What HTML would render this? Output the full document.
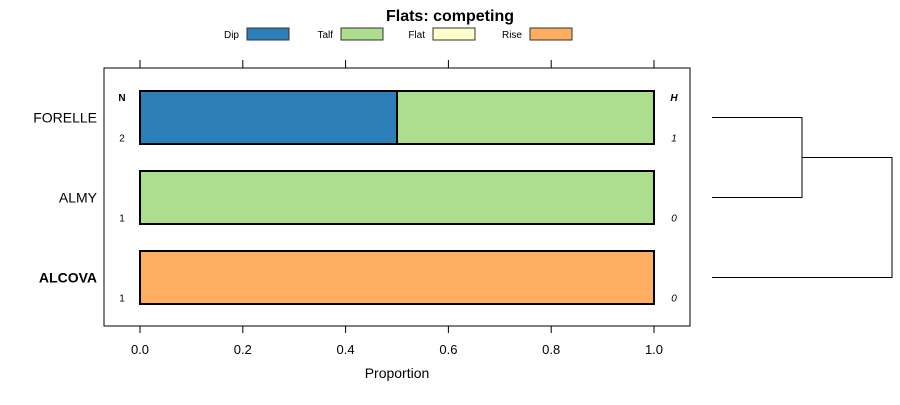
<!DOCTYPE html>
<html><head><meta charset="utf-8"><style>
body{margin:0;background:#fff}
svg text{font-family:"Liberation Sans",sans-serif}
</style></head><body>
<svg id="chart" width="900" height="400" xmlns="http://www.w3.org/2000/svg">
<text x="450" y="21" text-anchor="middle" font-size="16" font-weight="bold">Flats: competing</text>
<g id="legend"></g>
<rect x="104" y="68" width="586" height="258" fill="none" stroke="#000" stroke-width="1"/>
<g id="axes"></g>
<g id="bars"></g>
<g id="labels"></g>
<text x="397" y="378" text-anchor="middle" font-size="14">Proportion</text>
<g id="dendro" stroke="#000" fill="none" stroke-width="1">
<path d="M712,117.5H802V197.5H712 M802,157.5H892V277.5H712"/>
</g>
</svg>
<script>
const categories=["FORELLE","ALMY","ALCOVA"];
const seriesNames=["Dip","Talf","Flat","Rise"];
const colors=["#2c7fb8","#addd8e","#ffffcc","#fdae61"];
const dip=[0.5,0,0];
const talf=[0.5,1,0];
const flat=[0,0,0];
const rise=[0,0,1];
const nVals=["2","1","1"];
const hVals=["1","0","0"];
const ticks=[0,0.2,0.4,0.6,0.8,1.0];
const tickLabels=["0.0","0.2","0.4","0.6","0.8","1.0"];
const NS="http://www.w3.org/2000/svg";
const xs=v=>140+v*514;
const yc=i=>117.5+i*80;
function mk(tag,attrs,parent,text){const e=document.createElementNS(NS,tag);for(const k in attrs)e.setAttribute(k,attrs[k]);if(text!==undefined)e.textContent=text;parent.appendChild(e);return e;}
const axes=document.getElementById('axes');
ticks.forEach((t,i)=>{
 const a=mk('line',{x1:xs(t),x2:xs(t),y1:60,y2:68,stroke:'#000'},axes);
 
 
 const b=mk('line',{x1:xs(t),x2:xs(t),y1:326,y2:333,stroke:'#000'},axes);
 
 
 const l=mk('text',{x:xs(t),y:354,'text-anchor':'middle','font-size':13},axes,tickLabels[i]);
 
 
});
const bars=document.getElementById('bars');
const series=[dip,talf,flat,rise];
categories.forEach((c,i)=>{
 let cum=0;
 series.forEach((s,j)=>{
  const v=s[i]; if(v<=0)return;
  const r=mk('rect',{x:xs(cum),y:yc(i)-26.5,width:xs(cum+v)-xs(cum),height:53,fill:colors[j],stroke:'#000','stroke-width':2},bars);
  
  
  cum+=v;
 });
});
const lab=document.getElementById('labels');
categories.forEach((c,i)=>{
 const t=mk('text',{x:97,y:yc(i)+5,'text-anchor':'end','font-size':14,'font-weight':c==='ALCOVA'?'bold':'normal'},lab,c);
 
 
 const n=mk('text',{x:122,y:yc(i)+24,'text-anchor':'middle','font-size':10},lab,nVals[i]);
 
 
 const h=mk('text',{x:674,y:yc(i)+24,'text-anchor':'middle','font-size':10,'font-style':'italic'},lab,hVals[i]);
 
 
});
const nh=mk('text',{x:122,y:101,'text-anchor':'middle','font-size':10,'font-weight':'bold'},lab,'N');


const hh=mk('text',{x:674,y:101,'text-anchor':'middle','font-size':10,'font-weight':'bold','font-style':'italic'},lab,'H');


const leg=document.getElementById('legend');
const legX=[247,341,433,530];
seriesNames.forEach((s,j)=>{
 const t=mk('text',{x:legX[j]-8,y:38,'text-anchor':'end','font-size':10},leg,s);
 
 
 const r=mk('rect',{x:legX[j],y:28,width:42,height:12,fill:colors[j],stroke:'#333','stroke-width':1},leg);
 
 
});
</script>
</body></html>
